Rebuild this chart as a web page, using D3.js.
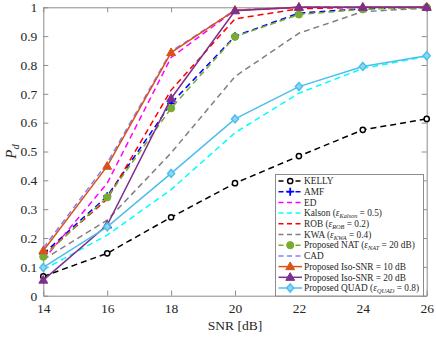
<!DOCTYPE html>
<html>
<head>
<meta charset="utf-8">
<script src="https://cdn.jsdelivr.net/npm/d3@7"></script>
<style>
  body { margin: 0; background: #fff; }
  text { font-family: "Liberation Serif", "DejaVu Serif", serif; fill: #262626; }
</style>
</head>
<body>
<div id="chart"></div>
<script>
// data
var snr = [14, 16, 18, 20, 22, 24, 26];
var xTicks = [14, 16, 18, 20, 22, 24, 26];
var yTicks = [0, 0.1, 0.2, 0.3, 0.4, 0.5, 0.6, 0.7, 0.8, 0.9, 1];

var kelly   = [0.067, 0.147, 0.272, 0.39, 0.484, 0.575, 0.613];
var amf     = [0.145, 0.345, 0.667, 0.90, 0.98, 0.995, 1.0];
var ed      = [0.124, 0.39, 0.826, 0.99, 1.0, 1.0, 1.0];
var kalson  = [0.09, 0.21, 0.368, 0.565, 0.702, 0.788, 0.83];
var rob     = [0.14, 0.335, 0.713, 0.96, 0.995, 1.0, 1.0];
var kwa     = [0.125, 0.262, 0.495, 0.76, 0.91, 0.985, 0.997];
var nat     = [0.135, 0.341, 0.65, 0.898, 0.975, 0.993, 1.0];
var cad     = [0.165, 0.46, 0.847, 0.99, 1.0, 1.0, 1.0];
var iso10   = [0.156, 0.449, 0.843, 0.99, 1.0, 1.0, 1.0];
var iso20   = [0.054, 0.245, 0.684, 0.988, 1.0, 1.0, 1.0];
var quad    = [0.098, 0.239, 0.424, 0.613, 0.725, 0.795, 0.832];

var seriesNames = ["KELLY", "AMF", "ED", "Kalson", "ROB", "KWA", "NAT", "CAD", "Iso10", "Iso20", "QUAD"];
var seriesValues = [kelly, amf, ed, kalson, rob, kwa, nat, cad, iso10, iso20, quad];

// styling for each series (same order as above)
var styles = [
  {color: "#000000", dash: "6,4", marker: "circle"},
  {color: "#0000ff", dash: "6,4", marker: "plus"},
  {color: "#ff00ff", dash: "6,4", marker: null},
  {color: "#00ffff", dash: "6,4", marker: null},
  {color: "#ff0000", dash: "6,4", marker: null},
  {color: "#808080", dash: "6,4", marker: null},
  {color: "#77ac30", dash: "6,4", marker: "dot"},
  {color: "#8080ff", dash: "6,4", marker: null},
  {color: "#d95319", dash: null, marker: "triangle"},
  {color: "#7e2f8e", dash: null, marker: "triangle"},
  {color: "#4dbeee", dash: null, marker: "diamond"}
];

var svgWidth = 436;
var svgHeight = 337;

var margin = {top: 7.3, right: 9.3, bottom: 41.3, left: 43.3};
var width = svgWidth - margin.left - margin.right;
var height = svgHeight - margin.top - margin.bottom;

var svg = d3.select("#chart")
  .append("svg")
  .attr("width", svgWidth)
  .attr("height", svgHeight);

var chartGroup = svg.append("g")
  .attr("transform", `translate(${margin.left}, ${margin.top})`);

var xScale = d3.scaleLinear().domain([14, 26]).range([0, width]);
var yScale = d3.scaleLinear().domain([0, 1]).range([height, 0]);

var axisColor = "#8c8c8c";

// axes, ticks pointing inwards on all four sides
function styleAxis(g) {
  g.select(".domain").attr("stroke", axisColor);
  g.selectAll(".tick line").attr("stroke", axisColor);
  g.selectAll(".tick text")
    .style("font-family", "Liberation Serif, DejaVu Serif, serif")
    .style("font-size", "13.5px")
    .attr("fill", "#262626");
}

chartGroup.append("g")
  .attr("transform", `translate(0, ${height})`)
  .call(d3.axisBottom(xScale).tickValues(xTicks).tickSizeInner(-5).tickSizeOuter(0).tickPadding(8))
  .call(styleAxis);

chartGroup.append("g")
  .call(d3.axisLeft(yScale).tickValues(yTicks).tickFormat(d3.format("~g")).tickSizeInner(-5).tickSizeOuter(0).tickPadding(6))
  .call(styleAxis);

chartGroup.append("g")
  .call(d3.axisTop(xScale).tickValues(xTicks).tickFormat("").tickSizeInner(-5).tickSizeOuter(0))
  .call(styleAxis);

chartGroup.append("g")
  .attr("transform", `translate(${width}, 0)`)
  .call(d3.axisRight(yScale).tickValues(yTicks).tickFormat("").tickSizeInner(-5).tickSizeOuter(0))
  .call(styleAxis);

// marker drawing
function drawMarker(g, type, color, x, y) {
  if (type === "circle") {
    g.append("circle").attr("cx", x).attr("cy", y).attr("r", 2.6)
      .attr("fill", "#fff").attr("stroke", color).attr("stroke-width", 1.5);
  } else if (type === "dot") {
    g.append("circle").attr("cx", x).attr("cy", y).attr("r", 3.6)
      .attr("fill", color).attr("stroke", color).attr("stroke-width", 1);
  } else if (type === "plus") {
    g.append("path").attr("d", `M${x - 4},${y}H${x + 4}M${x},${y - 4}V${y + 4}`)
      .attr("stroke", color).attr("stroke-width", 1.8);
  } else if (type === "triangle") {
    g.append("path").attr("d", d3.symbol(d3.symbolTriangle, 34)())
      .attr("transform", `translate(${x}, ${y + 0.5})`)
      .attr("fill", color).attr("stroke", color).attr("stroke-width", 1);
  } else if (type === "diamond") {
    g.append("path").attr("d", `M${x},${y - 4}L${x + 3.5},${y}L${x},${y + 4}L${x - 3.5},${y}Z`)
      .attr("fill", "#8fd6f4").attr("stroke", color).attr("stroke-width", 1.5);
  }
}

var line = d3.line()
  .x((d, i) => xScale(snr[i]))
  .y(d => yScale(d));

var plotGroup = chartGroup.append("g");

seriesValues.forEach(function(values, k) {
  var st = styles[k];
  var g = plotGroup.append("g");
  g.append("path")
    .datum(values)
    .attr("d", line)
    .attr("fill", "none")
    .attr("stroke", st.color)
    .attr("stroke-width", 1.5)
    .attr("stroke-dasharray", st.dash);
  if (st.marker) {
    values.forEach(function(v, i) {
      drawMarker(g, st.marker, st.color, xScale(snr[i]), yScale(v));
    });
  }
});

// axis labels
svg.append("text")
  .attr("x", margin.left + width / 2)
  .attr("y", 330)
  .attr("text-anchor", "middle")
  .style("font-size", "13.5px")
  .text("SNR [dB]");

var yLabel = svg.append("text")
  .attr("transform", `translate(16, ${margin.top + height / 2}) rotate(-90)`)
  .attr("text-anchor", "middle")
  .style("font-size", "15px");
yLabel.append("tspan").style("font-style", "italic").text("P");
yLabel.append("tspan").style("font-style", "italic").style("font-size", "10.5px").attr("dy", 3).text("d");

// legend
var legendLabels = [
  ["KELLY"],
  ["AMF"],
  ["ED"],
  ["Kalson (", "Kalson", " = 0.5)"],
  ["ROB (", "ROB", " = 0.2)"],
  ["KWA (", "KWA", " = 0.4)"],
  ["Proposed NAT (", "NAT", " = 20 dB)"],
  ["CAD"],
  ["Proposed Iso-SNR = 10 dB"],
  ["Proposed Iso-SNR = 20 dB"],
  ["Proposed QUAD (", "QUAD", " = 0.8)"]
];

var legend = svg.append("g");
legend.append("rect")
  .attr("x", 275.5).attr("y", 174.5)
  .attr("width", 148).attr("height", 121.5)
  .attr("fill", "#fff")
  .attr("stroke", axisColor)
  .attr("stroke-width", 1);

legendLabels.forEach(function(parts, k) {
  var st = styles[k];
  var y = 181 + k * 10.7;
  legend.append("line")
    .attr("x1", 278.5).attr("x2", 302)
    .attr("y1", y).attr("y2", y)
    .attr("stroke", st.color)
    .attr("stroke-width", 1.5)
    .attr("stroke-dasharray", st.dash ? "5,3.5" : null);
  if (st.marker) drawMarker(legend, st.marker, st.color, 290.2, y);

  var t = legend.append("text")
    .attr("x", 304)
    .attr("y", y + 3.2)
    .style("font-size", "9.3px");
  t.append("tspan").text(parts[0]);
  if (parts.length > 1) {
    t.append("tspan").style("font-style", "italic").text("\u03b5");
    t.append("tspan").style("font-style", "italic").style("font-size", "6.3px")
      .attr("dy", 1.8).text(parts[1]);
    t.append("tspan").attr("dy", -1.8).text(parts[2]);
  }
});
</script>
</body>
</html>
